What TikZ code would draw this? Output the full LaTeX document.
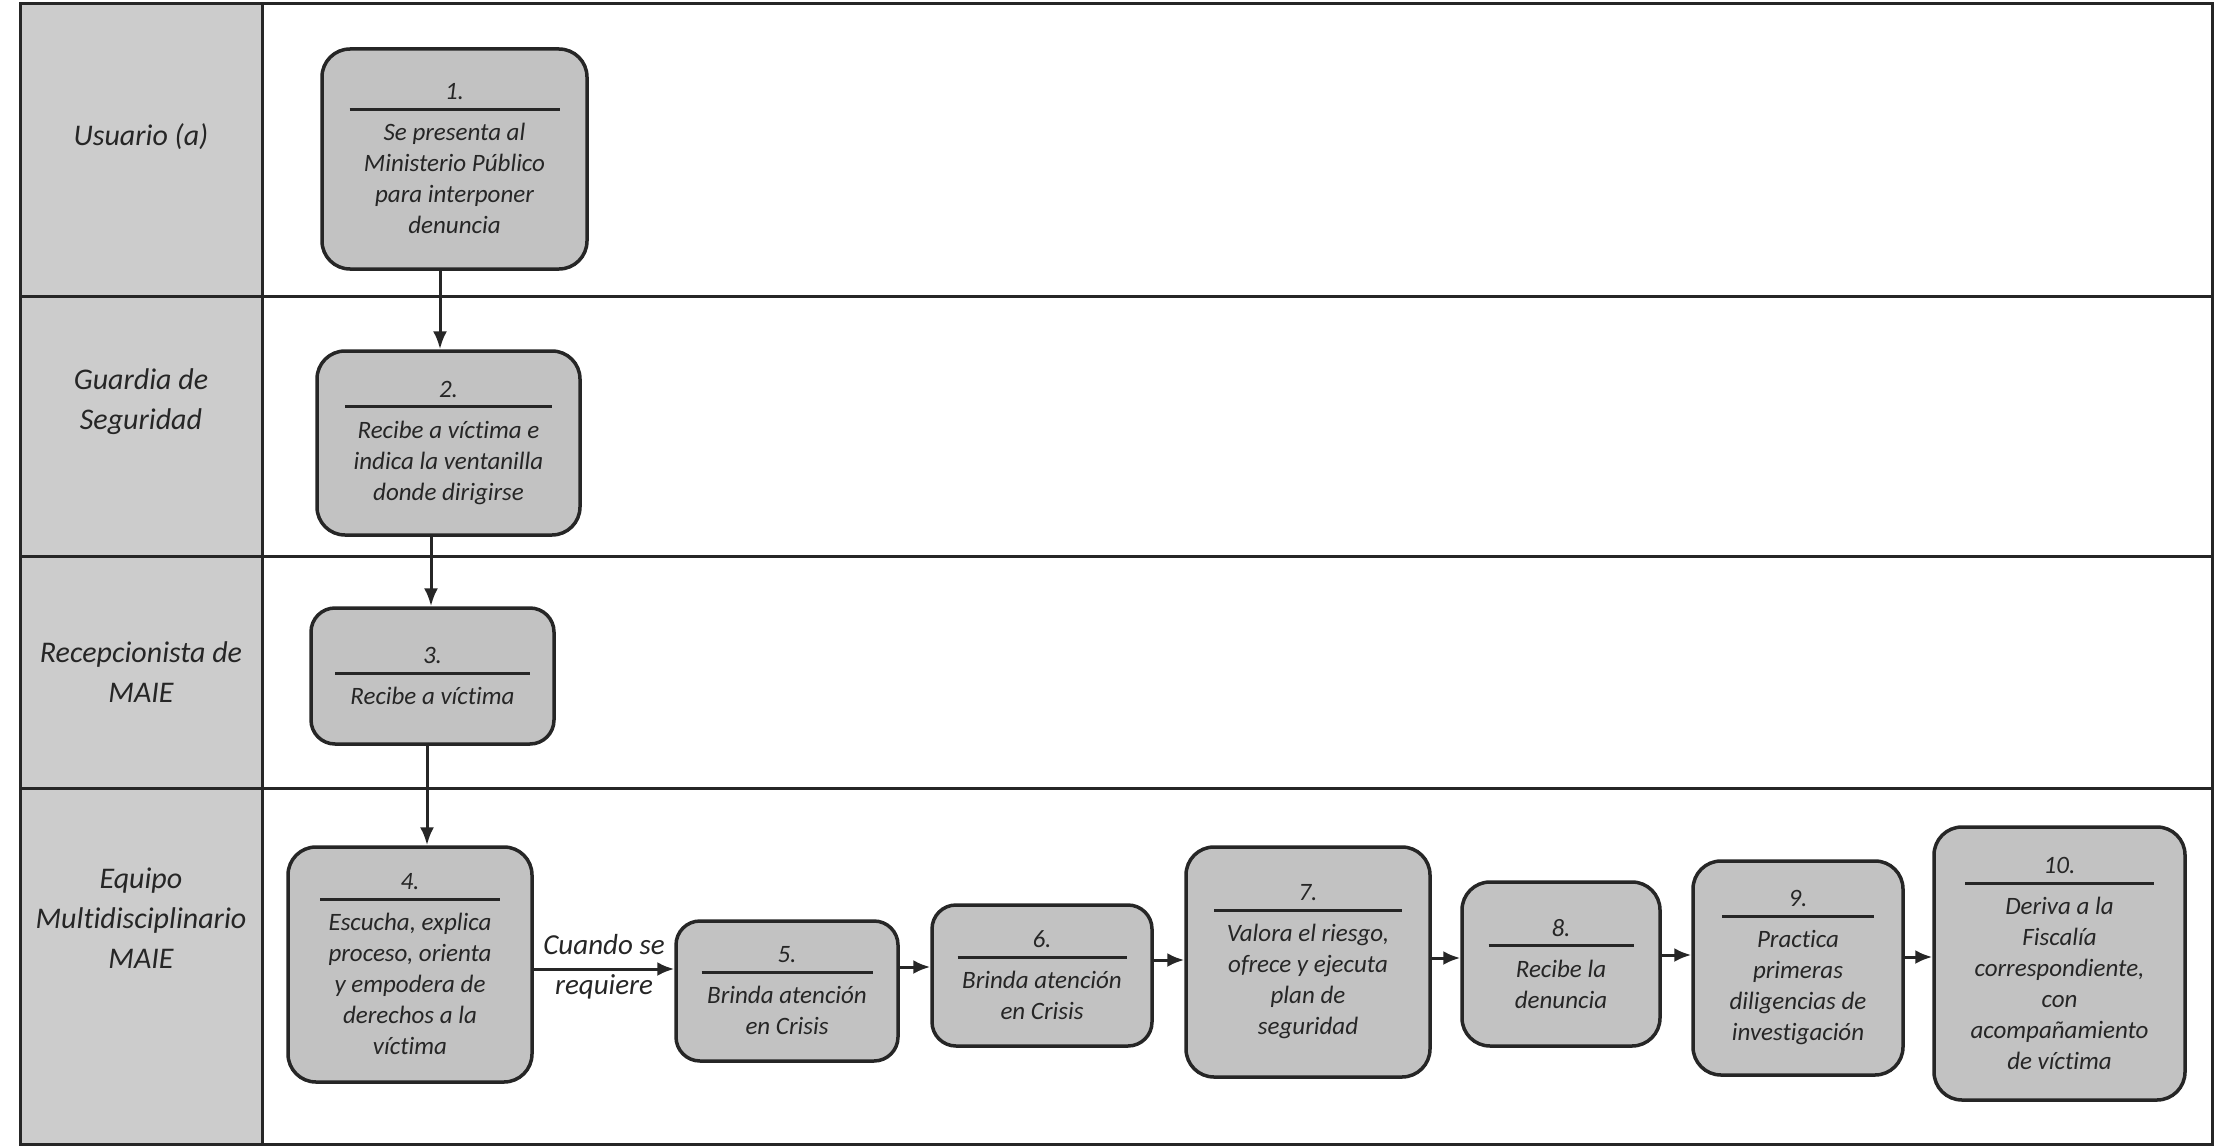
\documentclass[tikz,border=0pt]{standalone}
\usepackage{fontspec}
\setmainfont[Ligatures=NoCommon]{Carlito}
\usetikzlibrary{arrows.meta,calc}
\definecolor{lanefill}{gray}{0.80}
\definecolor{boxfill}{gray}{0.76}
\definecolor{ink}{gray}{0.15}
\newcommand\stepbody[3]{#1\\[-20pt]\rule{#2pt}{3pt}\\[-1pt]#3}
\tikzset{
  frame/.style={line width=3pt, draw=ink},
  lanehead/.style={fill=lanefill},
  lanelabel/.style={font=\fontsize{30}{40}\selectfont\itshape, align=center, text=ink},
  proc/.style={draw=ink, line width=3.5pt, rounded corners=28pt, fill=boxfill, align=center,
    font=\fontsize{25}{31}\selectfont\itshape, text=ink, inner sep=0pt},
  arr/.style={line width=3pt, draw=ink, -{Latex[length=18pt,width=14pt]}},
  harr/.style={line width=3pt, draw=ink, -{Latex[length=17pt,width=14pt]}},
  cond/.style={font=\fontsize{29}{40}\selectfont\itshape, align=center, text=ink, inner sep=0pt},
}
\begin{document}
\begin{tikzpicture}[x=1pt,y=-1pt]
\useasboundingbox (0,0) rectangle (2217,1148);
\fill[white] (0,0) rectangle (2217,1148);
% lanes
\fill[lanehead] (20,4) rectangle (262,1144);
\draw[frame] (20,4) rectangle (2212,1144);
\draw[frame] (262,4) -- (262,1144);
\draw[frame] (20,296) -- (2212,296);
\draw[frame] (20,556) -- (2212,556);
\draw[frame] (20,788) -- (2212,788);
% lane labels
\node[lanelabel] (l1) at (141,137) {Usuario (a)};
\node[lanelabel] (l2) at (141,402) {Guardia de\\Seguridad};
\node[lanelabel] (l3) at (141,672) {Recepcionista de\\MAIE};
\node[lanelabel] (l4) at (141,918) {Equipo\\Multidisciplinario\\MAIE};
% steps
\node[proc, minimum width=265pt, minimum height=220pt] (n1) at (454.5,159)
  {\stepbody{1.}{210}{Se presenta al\\Ministerio Público\\para interponer\\denuncia}};
\node[proc, minimum width=263pt, minimum height=184pt] (n2) at (448.5,443)
  {\stepbody{2.}{207}{Recibe a víctima e\\indica la ventanilla\\donde dirigirse}};
\node[proc, minimum width=243pt, minimum height=136pt, rounded corners=24pt] (n3) at (432.5,676)
  {\stepbody{3.}{195}{Recibe a víctima}};
\node[proc, minimum width=244pt, minimum height=235pt] (n4) at (410,964.5)
  {\stepbody{4.}{180}{Escucha, explica\\proceso, orienta\\y empodera de\\derechos a la\\víctima}};
\node[proc, minimum width=222pt, minimum height=140pt, rounded corners=24pt] (n5) at (787,991)
  {\stepbody{5.}{171}{Brinda atención\\en Crisis}};
\node[proc, minimum width=220pt, minimum height=141pt, rounded corners=24pt] (n6) at (1042,975.5)
  {\stepbody{6.}{169}{Brinda atención\\en Crisis}};
\node[proc, minimum width=244pt, minimum height=230pt] (n7) at (1308,962)
  {\stepbody{7.}{188}{Valora el riesgo,\\ofrece y ejecuta\\plan de\\seguridad}};
\node[proc, minimum width=198pt, minimum height=164pt] (n8) at (1561,964)
  {\stepbody{8.}{145}{Recibe la\\denuncia}};
\node[proc, minimum width=210pt, minimum height=214pt] (n9) at (1798,968)
  {\stepbody{9.}{152}{Practica\\primeras\\diligencias de\\investigación}};
\node[proc, minimum width=251pt, minimum height=273pt] (n10) at (2059.5,963.5)
  {\stepbody{10.}{189}{Deriva a la\\Fiscalía\\correspondiente,\\con\\acompañamiento\\de víctima}};
% vertical connectors
\draw[arr] (n1.south -| 440,0) -- (n2.north -| 440,0);
\draw[arr] (n2.south -| 431,0) -- (n3.north -| 431,0);
\draw[arr] (n3.south -| 427,0) -- (n4.north -| 427,0);
% horizontal connectors
\coordinate (a45) at (n4.east |- 0,969);
\coordinate (b45) at (n5.west |- 0,969);
\draw[harr] (a45) -- (b45);
\node[cond] (c45) at ($(a45)!0.5!(b45)+(0,-2)$) {Cuando se\\requiere};
\draw[harr] (n5.east |- 0,967) -- (n6.west |- 0,967);
\draw[harr] (n6.east |- 0,960) -- (n7.west |- 0,960);
\draw[harr] (n7.east |- 0,958) -- (n8.west |- 0,958);
\draw[harr] (n8.east |- 0,955) -- (n9.west |- 0,955);
\draw[harr] (n9.east |- 0,957) -- (n10.west |- 0,957);
\end{tikzpicture}
\end{document}
